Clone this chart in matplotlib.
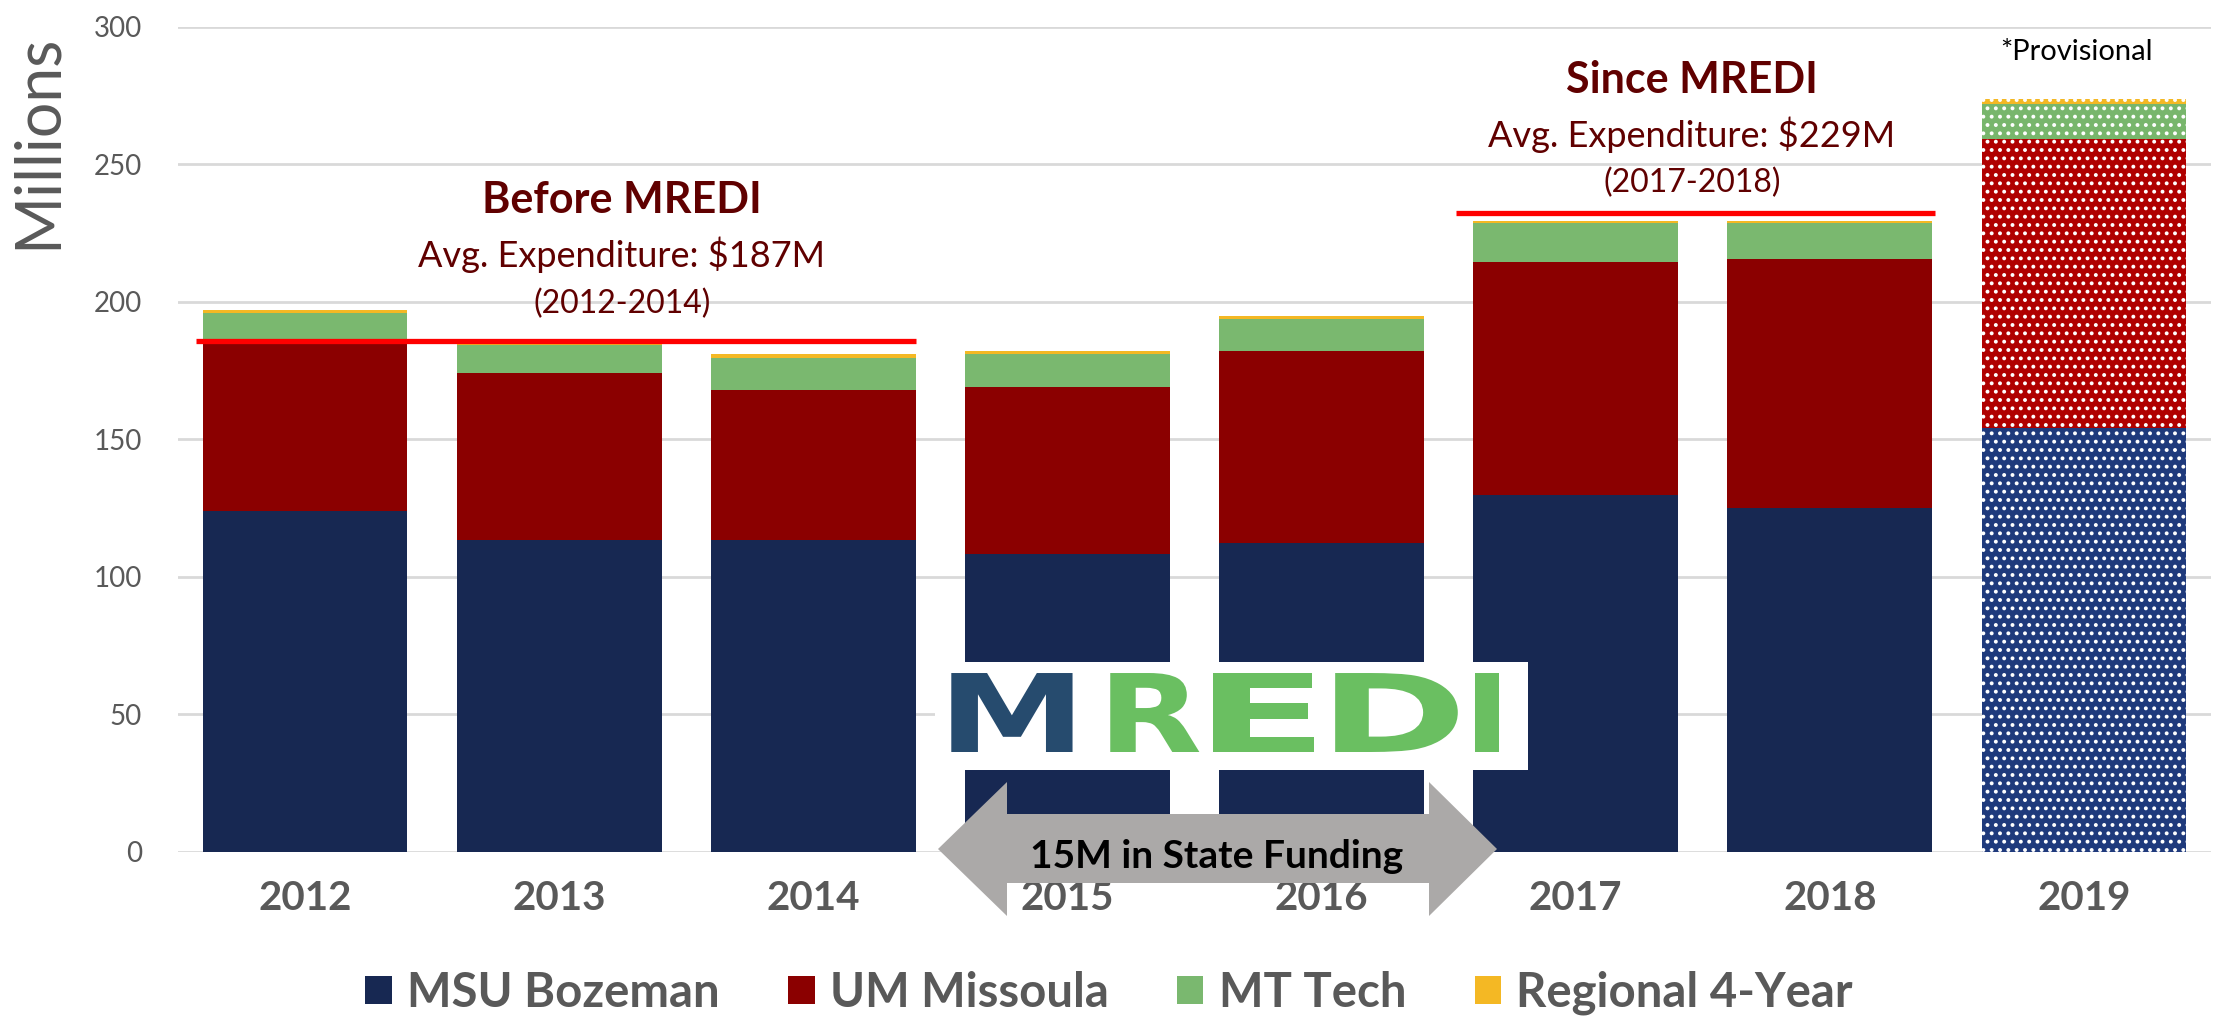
import matplotlib
matplotlib.use("Agg")
import matplotlib.pyplot as plt
import numpy as np
from matplotlib.patches import Patch, Rectangle, Polygon
from matplotlib.patheffects import AbstractPathEffect
from matplotlib.transforms import Affine2D

plt.rcParams['font.family'] = ['Lato', 'DejaVu Sans']
plt.rcParams['hatch.linewidth'] = 1.6

# ---------------- data ----------------
years = ["2012", "2013", "2014", "2015", "2016", "2017", "2018", "2019"]
series_names = ["MSU Bozeman", "UM Missoula", "MT Tech", "Regional 4-Year"]
msu_bozeman = [123.9, 113.5, 113.5, 108.5, 112.2, 129.6, 125.0, 154.3]
um_missoula = [60.6, 60.6, 54.5, 60.6, 69.9, 84.9, 90.5, 105.0]
mt_tech = [11.4, 10.1, 11.6, 11.9, 11.5, 14.1, 13.1, 12.6]
regional_4yr = [1.0, 0.5, 1.4, 1.1, 1.2, 0.9, 0.9, 1.9]
avg_levels = [185.7, 232.3]          # red reference lines (before / since MREDI)

solid_colors = ["#172852", "#8B0000", "#7AB86F", "#F4B824"]
provisional_colors = ["#1F3A7C", "#B00000", "#78B66C", "#F4B824"]

W, H = 2214, 1017
fig = plt.figure(figsize=(W / 100, H / 100), dpi=100)


def fx(px):
    return px / W


def fy(py):
    return 1 - py / H


class HStretch(AbstractPathEffect):
    """Stretch a text glyph horizontally about a given pixel x."""
    def __init__(self, sx, cx):
        super().__init__()
        self.sx = sx
        self.cx = cx

    def draw_path(self, renderer, gc, tpath, affine, rgbFace=None):
        t = affine + Affine2D().translate(-self.cx, 0).scale(self.sx, 1).translate(self.cx, 0)
        renderer.draw_path(gc, tpath, t, rgbFace)


ax = fig.add_axes([fx(178), fy(852), fx(2211) - fx(178), fy(26.7) - fy(852)])

x = np.arange(len(years))
bw = 0.806
series = [msu_bozeman, um_missoula, mt_tech, regional_4yr]
bottom = np.zeros(len(years))
for vals, c, pc in zip(series, solid_colors, provisional_colors):
    bars = ax.bar(x, vals, bw, bottom=bottom, color=c, linewidth=0, zorder=2)
    last = bars[-1]
    last.set_facecolor(pc)
    last.set_hatch('..')
    last.set_edgecolor('white')
    last.set_linewidth(0)
    bottom += np.array(vals)

ax.set_xlim(-0.5, len(years) - 0.5)
ax.set_ylim(0, 300)
ax.set_yticks(np.arange(0, 301, 50))
ax.yaxis.grid(True, color="#D9D9D9", linewidth=2)
ax.set_axisbelow(True)
for s in ax.spines.values():
    s.set_visible(False)
ax.set_xticks(x)
ax.set_xticklabels(years, fontsize=29, fontweight='bold', color="#595959")
ax.tick_params(axis='x', length=0, pad=20)
ax.tick_params(axis='y', length=0, pad=26, labelsize=20, labelcolor="#595959")

# average lines
ax.plot([-0.43, 2.405], [avg_levels[0]] * 2, color="#FF0000", lw=3.8, zorder=4,
        solid_capstyle='butt')
ax.plot([4.53, 6.415], [avg_levels[1]] * 2, color="#FF0000", lw=3.8, zorder=4,
        solid_capstyle='butt')

# y label
fig.text(fx(38), fy(141), "Millions", rotation=90, fontsize=45, color="#595959",
         ha='center', va='center')

dark_red = "#600000"
fig.text(fx(622), fy(213), "Before MREDI", fontsize=31, fontweight='bold',
         color=dark_red, ha='center', va='baseline')
fig.text(fx(622), fy(266.7), "Avg. Expenditure: $187M", fontsize=26,
         color=dark_red, ha='center', va='baseline')
fig.text(fx(622), fy(313), "(2012-2014)", fontsize=23,
         color=dark_red, ha='center', va='baseline')

fig.text(fx(1692), fy(92.7), "Since MREDI", fontsize=31, fontweight='bold',
         color=dark_red, ha='center', va='baseline')
fig.text(fx(1692), fy(146.7), "Avg. Expenditure: $229M", fontsize=26,
         color=dark_red, ha='center', va='baseline')
fig.text(fx(1692), fy(191.7), "(2017-2018)", fontsize=23,
         color=dark_red, ha='center', va='baseline')

fig.text(fx(2076), fy(60), "*Provisional", fontsize=21, color="black",
         ha='center', va='baseline')

# MREDI logo box
box = Rectangle((fx(935), fy(770)), fx(1528) - fx(935), fy(662) - fy(770),
                transform=fig.transFigure, facecolor='white', edgecolor='none',
                zorder=3)
fig.add_artist(box)
logo_letters = ["M", "R", "E", "D", "I"]
logo_centers = [1012, 1150, 1262, 1393, 1487]
logo_stretch = [1.38, 1.25, 1.8, 1.65, 1.2]
logo_colors = ["#264B6E", "#6ABF61", "#6ABF61", "#6ABF61", "#6ABF61"]
for ch, cx, sx, cc in zip(logo_letters, logo_centers, logo_stretch, logo_colors):
    fig.text(fx(cx), fy(752), ch, fontsize=78, fontweight='bold',
             family='DejaVu Sans', color=cc, ha='center', va='baseline',
             zorder=4, path_effects=[HStretch(sx, cx)])

# double arrow
pts_px = [(938, 849), (1007, 782), (1007, 814), (1429, 814), (1429, 782),
          (1497, 849), (1429, 916), (1429, 883), (1007, 883), (1007, 916)]
arrow = Polygon([(fx(a), fy(b)) for a, b in pts_px], closed=True,
                transform=fig.transFigure, facecolor="#ABA9A8",
                edgecolor='none', zorder=4)
fig.add_artist(arrow)
fig.text(fx(1217), fy(868), "15M in State Funding", fontsize=28,
         fontweight='bold', color='black', ha='center', va='baseline', zorder=5)

# legend
handles = [Patch(facecolor=c, edgecolor='none') for c in solid_colors]
leg = fig.legend(handles, series_names, loc='center',
                 bbox_to_anchor=(fx(1109), fy(993)), ncol=4, frameon=False,
                 prop={'size': 34, 'weight': 'bold'},
                 handlelength=0.56, handleheight=0.56, handletextpad=0.32,
                 columnspacing=1.45, borderpad=0, borderaxespad=0)
for t in leg.get_texts():
    t.set_color("#595959")

fig.savefig("out.png", dpi=100)
